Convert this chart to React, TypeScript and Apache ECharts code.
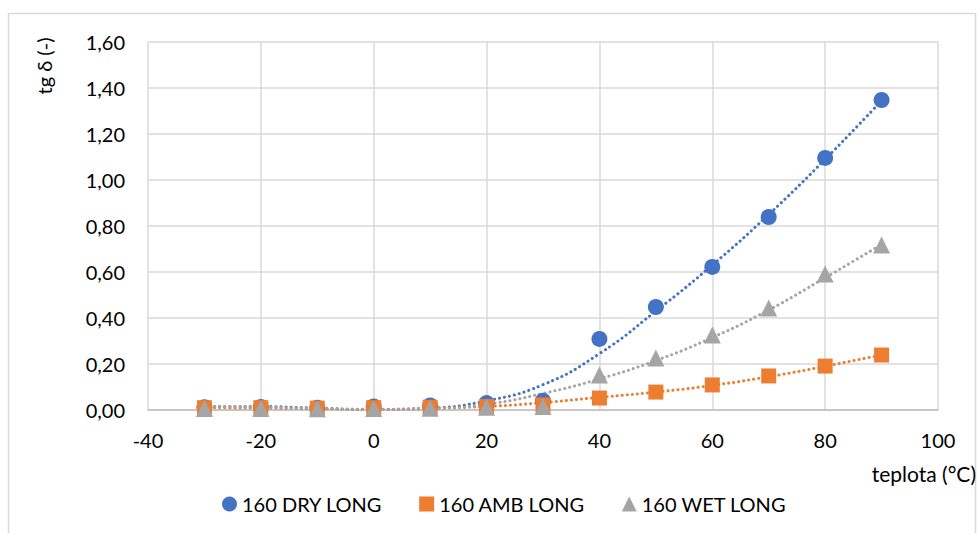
import React, { useEffect, useRef } from "react";
import * as echarts from "echarts";

const temps = [-30, -20, -10, 0, 10, 20, 30, 40, 50, 60, 70, 80, 90];
const dryLong = [0.012, 0.013, 0.01, 0.015, 0.02, 0.03, 0.04, 0.309, 0.448, 0.622, 0.839, 1.096, 1.348];
const ambLong = [0.01, 0.01, 0.008, 0.01, 0.012, 0.015, 0.022, 0.052, 0.078, 0.109, 0.148, 0.191, 0.239];
const wetLong = [0.006, 0.006, 0.005, 0.006, 0.008, 0.012, 0.015, 0.152, 0.226, 0.326, 0.443, 0.591, 0.717];

// trendline values
const trendTemps = [-30, -20, -10, 0, 10, 20, 30, 40, 50, 60, 70, 80, 90];
const dryTrend = [0.015, 0.015, 0.008, 0.002, 0.008, 0.04, 0.11, 0.245, 0.43, 0.63, 0.85, 1.09, 1.345];
const ambTrend = [0.01, 0.008, 0.005, 0.003, 0.008, 0.015, 0.032, 0.055, 0.078, 0.107, 0.145, 0.19, 0.24];
const wetTrend = [0.017, 0.012, 0.006, 0.002, 0.005, 0.025, 0.072, 0.135, 0.215, 0.315, 0.435, 0.575, 0.72];

const yTicks = ["0,00", "0,20", "0,40", "0,60", "0,80", "1,00", "1,20", "1,40", "1,60"];

const names = ["160 DRY LONG", "160 AMB LONG", "160 WET LONG"];
const colors = ["#4472C4", "#ED7D31", "#A5A5A5"];
const FONT = "Lato, 'Open Sans', sans-serif";

export default function App() {
  const ref = useRef<HTMLDivElement>(null);
  useEffect(() => {
    const chart = echarts.init(ref.current!, null, { renderer: "svg" });
    const pts = (ys: number[]) => temps.map((t, i) => [t, ys[i]]);
    const trend = (ys: number[]) => trendTemps.map((t, i) => [t, ys[i]]);
    const trendLine = (ys: number[], c: string) => ({
      type: "line",
      data: trend(ys),
      smooth: 0.5,
      showSymbol: false,
      silent: true,
      z: 1,
      lineStyle: { color: c, width: 3, type: [0.1, 5], cap: "round" },
    });
    const scatter = (i: number, ys: number[], symbol: string, size: number) => ({
      type: "scatter",
      name: names[i],
      data: pts(ys),
      symbol,
      symbolSize: size,
      z: 3,
      itemStyle: { color: colors[i], opacity: 1 },
    });
    chart.setOption({
      animation: false,
      textStyle: { fontFamily: FONT },
      grid: { left: 148, right: 39, top: 42, bottom: 123 },
      xAxis: {
        type: "value",
        min: -40,
        max: 100,
        interval: 20,
        axisLine: { show: true, onZero: false, lineStyle: { color: "#BFBFBF", width: 1.5 } },
        axisTick: { show: false },
        splitLine: { show: true, lineStyle: { color: "#D9D9D9", width: 1.5 } },
        axisLabel: { color: "#000", fontSize: 20, fontFamily: FONT, margin: 20 },
      },
      yAxis: {
        type: "value",
        min: 0,
        max: 1.6,
        interval: 0.2,
        axisLine: { show: false },
        axisTick: { show: false },
        splitLine: { show: true, lineStyle: { color: "#D9D9D9", width: 1.5 } },
        axisLabel: {
          color: "#000",
          fontSize: 20,
          fontFamily: FONT,
          margin: 23,
          formatter: (v: number) => yTicks[Math.round(v / 0.2)] ?? "",
        },
      },
      legend: {
        data: [
          { name: names[0], icon: "circle" },
          { name: names[1], icon: "rect" },
          { name: names[2], icon: "triangle" },
        ],
        left: 217,
        top: 489,
        itemWidth: 15,
        itemHeight: 15,
        itemGap: 37,
        textStyle: { color: "#000", fontSize: 20, fontFamily: FONT },
      },
      graphic: [
        {
          type: "rect",
          shape: { x: 8.5, y: 13.5, width: 967, height: 530 },
          style: { fill: "none", stroke: "#D9D9D9", lineWidth: 1.5 },
          silent: true,
        },
        {
          type: "text",
          x: 44,
          y: 66,
          rotation: Math.PI / 2,
          style: {
            text: "tg δ (-)",
            fontSize: 20,
            fontFamily: FONT,
            fill: "#000",
            align: "center",
            verticalAlign: "middle",
          },
        },
        {
          type: "text",
          x: 976,
          y: 473,
          style: {
            text: "teplota (°C)",
            fontSize: 21,
            fontFamily: FONT,
            fill: "#000",
            align: "right",
            verticalAlign: "middle",
          },
        },
      ],
      series: [
        trendLine(dryTrend, colors[0]),
        trendLine(ambTrend, colors[1]),
        trendLine(wetTrend, colors[2]),
        scatter(0, dryLong, "circle", 16),
        scatter(1, ambLong, "rect", 15),
        scatter(2, wetLong, "triangle", 17),
      ],
    });
    return () => chart.dispose();
  }, []);
  return (
    <div
      ref={ref}
      style={{ position: "fixed", left: 0, top: 0, width: 977, height: 533, background: "#fff" }}
    />
  );
}
